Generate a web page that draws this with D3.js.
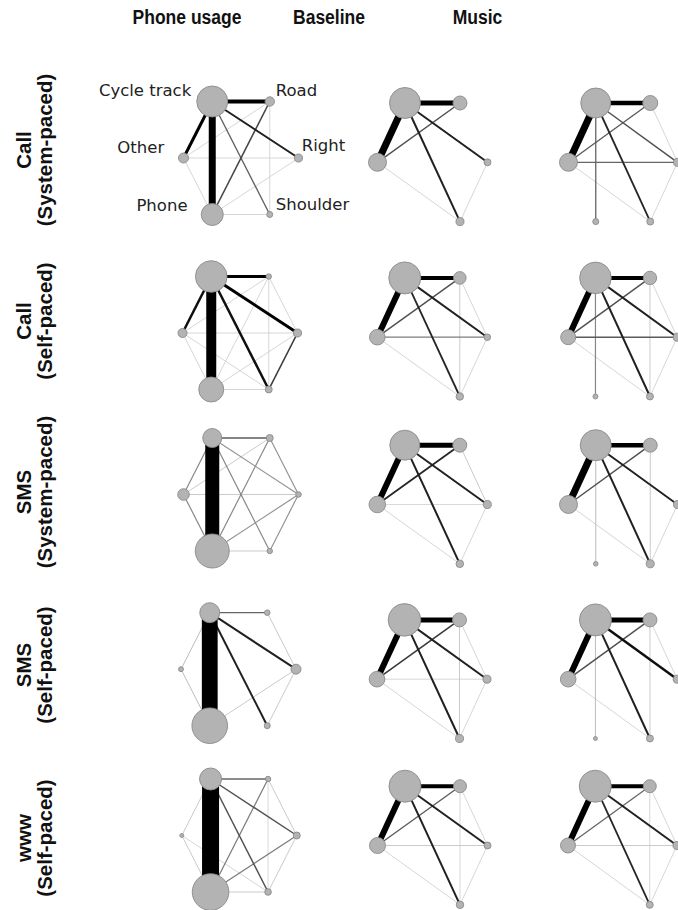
<!DOCTYPE html>
<html>
<head>
<meta charset="utf-8">
<script src="https://cdn.jsdelivr.net/npm/d3@7"></script>
<style>
  html, body { margin: 0; padding: 0; background: #fff; }
  svg { display: block; }
</style>
</head>
<body>
<svg id="chart" width="678" height="910"></svg>
<script>
// Gaze-transition networks: 5 task conditions x 3 conditions (columns).
// Areas of interest, in hexagon order starting top-left, clockwise.
const aoiKeys  = ["CT", "RD", "RT", "SH", "PH", "OT"];
const aoiNames = ["Cycle track", "Road", "Right", "Shoulder", "Phone", "Other"];
// circular layout coordinates of each AOI (normalised to [-1, 1])
const aoiLayout = [[-0.5, 1], [0.5, 1], [1, 0], [0.5, -1], [-0.5, -1], [-1, 0]];

const columnTitles = ["Phone usage", "Baseline", "Music"];
const rowTask = ["Call", "Call", "SMS", "SMS", "www"];
const rowPace = ["(System-paced)", "(Self-paced)", "(System-paced)", "(Self-paced)", "(Self-paced)"];

// share of dwell time per AOI (%), order = aoiKeys; null = AOI not present
const dwellPhone = [
  [55.5, 5.1, 3.7, 2.1, 28.0, 5.8],
  [57.7, 1.7, 3.7, 2.8, 36.1, 4.7],
  [20.9, 2.8, 1.8, 1.7, 66.8, 7.8],
  [23.1, 1.8, 5.8, 2.1, 73.3, 1.4],
  [28.0, 1.7, 2.8, 2.5, 77.4, 0.9]
];
const dwellBaseline = [
  [55.5, 11.3, 2.8, 3.7, null, 18.7],
  [59.2, 9.2, 2.5, 3.2, null, 14.1],
  [52.0, 11.3, 3.7, 3.3, null, 15.9],
  [61.4, 11.3, 3.7, 3.7, null, 14.1],
  [59.2, 9.8, 2.8, 3.2, null, 14.8]
];
const dwellMusic = [
  [52.0, 13.0, 3.7, 2.8, 2.1, 18.7],
  [57.7, 10.4, 3.7, 2.8, 1.4, 13.0],
  [55.5, 11.3, 3.7, 3.7, 1.2, 18.7],
  [59.2, 11.3, 3.7, 2.8, 0.9, 14.1],
  [59.2, 9.8, 3.7, 2.8, null, 13.0]
];

// transition frequencies (% of transitions) between AOI pairs
const transPhone = [
  [["CT","PH",8], ["CT","RD",4.25], ["CT","OT",3], ["CT","RT",1.75], ["PH","RD",1.2], ["CT","SH",0.95],
   ["RD","OT",0.4], ["RD","SH",0.4], ["OT","RT",0.4], ["OT","PH",0.4], ["PH","SH",0.4], ["PH","RT",0.4]],
  [["CT","PH",11.75], ["CT","RD",3], ["CT","OT",2.4], ["CT","RT",3], ["CT","SH",2.4], ["RT","SH",1.3],
   ["RD","OT",0.4], ["RD","PH",0.4], ["RD","SH",0.4], ["RD","RT",0.4], ["OT","RT",0.4], ["OT","PH",0.4],
   ["OT","SH",0.4], ["PH","RT",0.4], ["PH","SH",0.4]],
  [["CT","PH",16.75], ["CT","RD",1.0], ["CT","OT",0.75], ["CT","RT",0.7], ["CT","SH",0.75], ["RD","OT",0.45],
   ["RD","PH",0.75], ["RD","RT",0.7], ["OT","RT",0.45], ["OT","PH",0.75], ["PH","RT",0.7], ["PH","SH",0.45],
   ["RT","SH",0.7]],
  [["CT","PH",19], ["CT","RD",0.9], ["CT","RT",1.75], ["CT","SH",1.75], ["CT","OT",0.5], ["OT","PH",0.5],
   ["RD","RT",0.45], ["PH","RT",0.45], ["RT","SH",0.45]],
  [["CT","PH",20.5], ["CT","RD",0.9], ["CT","RT",1.1], ["CT","SH",1.1], ["CT","OT",0.45], ["RD","PH",0.8],
   ["RD","SH",0.3], ["RD","RT",0.45], ["OT","PH",0.45], ["OT","SH",0.4], ["PH","RT",0.8], ["PH","SH",0.45],
   ["RT","SH",0.45]]
];
const transBaseline = [
  [["CT","OT",8], ["CT","RD",5.5], ["CT","RT",1.75], ["CT","SH",1.75], ["RD","OT",1.1], ["OT","SH",0.4], ["RT","SH",0.4]],
  [["CT","OT",6.75], ["CT","RD",4.25], ["CT","RT",1.75], ["CT","SH",1.5], ["RD","OT",1.1], ["OT","RT",0.8],
   ["RD","SH",0.45], ["RD","RT",0.4], ["OT","SH",0.4], ["RT","SH",0.4]],
  [["CT","OT",6.75], ["CT","RD",5.5], ["CT","RT",1.75], ["CT","SH",1.75], ["RD","OT",1.5], ["RD","RT",0.45],
   ["OT","RT",0.3], ["OT","SH",0.4], ["RT","SH",0.4]],
  [["CT","OT",6.75], ["CT","RD",5.5], ["CT","RT",1.75], ["CT","SH",1.75], ["RD","OT",1.3], ["RD","SH",0.45],
   ["RD","RT",0.4], ["OT","RT",0.4], ["OT","SH",0.4], ["RT","SH",0.4]],
  [["CT","OT",6.75], ["CT","RD",4.25], ["CT","RT",1.75], ["CT","SH",1.75], ["RD","OT",1.0], ["OT","RT",0.45],
   ["RD","SH",0.4], ["RD","RT",0.4], ["OT","SH",0.4], ["RT","SH",0.4]]
];
const transMusic = [
  [["CT","OT",8], ["CT","RD",4.9], ["CT","PH",0.9], ["CT","SH",1.5], ["CT","RT",1.1], ["RD","OT",1.0],
   ["OT","RT",0.9], ["RD","RT",0.4], ["OT","SH",0.4], ["RT","SH",0.4]],
  [["CT","OT",6.75], ["CT","RD",4.25], ["CT","PH",0.75], ["CT","SH",1.75], ["CT","RT",1.75], ["RD","OT",1.1],
   ["OT","RT",1.0], ["RD","SH",0.45], ["RD","RT",0.4], ["OT","SH",0.4], ["RT","SH",0.4]],
  [["CT","OT",8], ["CT","RD",4.9], ["CT","PH",0.5], ["CT","SH",1.75], ["CT","RT",1.75], ["RD","OT",1.1],
   ["RD","SH",0.45], ["OT","SH",0.4], ["RT","SH",0.4]],
  [["CT","OT",6.75], ["CT","RD",5.5], ["CT","PH",0.5], ["CT","SH",1.75], ["CT","RT",2.4], ["RD","OT",1.1],
   ["RD","SH",0.45], ["RD","RT",0.4], ["OT","SH",0.4]],
  [["CT","OT",6.75], ["CT","RD",4.25], ["CT","RT",1.75], ["CT","SH",1.5], ["RD","OT",0.9], ["OT","RT",0.45],
   ["RD","SH",0.4], ["RD","RT",0.4], ["OT","SH",0.4], ["RT","SH",0.4]]
];

const dwellByColumn = [dwellPhone, dwellBaseline, dwellMusic];
const transByColumn = [transPhone, transBaseline, transMusic];

// ---- panel geometry ----
const colGeom = [
  { cx: [241, 240, 241, 238.5, 239.3], rx: 57.5, ry: 56.5, cy: [158, 333, 494.5, 669.2, 835.5] },
  { cx: [432.5, 432.3, 432.3, 432, 432.5], rx: 55, ry: 59.3, cy: [162.3, 337.2, 504.5, 679.2, 845.5] },
  { cx: [623, 622.7, 623, 622.7, 622.5], rx: 54.5, ry: 59.3, cy: [162.3, 337.2, 504.5, 679.2, 845.5] }
];
const titleX = [187, 329, 477.5];
const rowLabelY = [150, 321, 492, 665, 838];

const radius = d3.scaleSqrt().domain([0, 100]).range([0, 20.8]);
const edgeWidth = d3.scaleLinear().domain([0, 20]).range([0.6, 16.6]);
const edgeColor = d3.scaleLinear()
  .domain([0.4, 0.6, 0.9, 1.5, 3])
  .range(["#d2d2d2", "#a8a8a8", "#666666", "#262626", "#000000"])
  .clamp(true);

const svg = d3.select("#chart");
svg.append("rect").attr("width", 678).attr("height", 910).attr("fill", "#fff");

const boldFont = "'Liberation Sans', Arial, sans-serif";

// column titles (bold, slightly condensed)
svg.selectAll("g.coltitle")
  .data(columnTitles)
  .join("g")
  .attr("class", "coltitle")
  .attr("transform", (d, i) => `translate(${titleX[i]},24) scale(0.875,1)`)
  .append("text")
  .attr("text-anchor", "middle")
  .attr("font-family", boldFont)
  .attr("font-weight", "bold")
  .attr("font-size", 20)
  .attr("fill", "#111")
  .text(d => d);

// row labels (rotated, two lines)
const rowG = svg.selectAll("g.rowlabel")
  .data(rowTask)
  .join("g")
  .attr("class", "rowlabel")
  .attr("transform", (d, i) => `translate(0,${rowLabelY[i]}) rotate(-90)`);
rowG.append("text")
  .attr("x", 0).attr("y", 31)
  .attr("text-anchor", "middle")
  .attr("font-family", boldFont)
  .attr("font-weight", "bold").attr("font-size", 20.5).attr("fill", "#111")
  .text(d => d);
rowG.append("text")
  .attr("x", 0).attr("y", 52)
  .attr("text-anchor", "middle")
  .attr("font-family", boldFont)
  .attr("font-weight", "bold").attr("font-size", 20.5).attr("fill", "#111")
  .text((d, i) => rowPace[i]);

// networks
for (let c = 0; c < 3; c++) {
  for (let r = 0; r < 5; r++) {
    const g = colGeom[c];
    const x = d3.scaleLinear().domain([-1, 1]).range([g.cx[r] - g.rx, g.cx[r] + g.rx]);
    const y = d3.scaleLinear().domain([-1, 1]).range([g.cy[r] + g.ry, g.cy[r] - g.ry]);
    const dwell = dwellByColumn[c][r];
    const nodes = aoiKeys.map((k, i) => ({
      key: k, name: aoiNames[i], value: dwell[i],
      x: x(aoiLayout[i][0]), y: y(aoiLayout[i][1])
    })).filter(n => n.value !== null);
    const byKey = new Map(nodes.map(n => [n.key, n]));
    const links = transByColumn[c][r]
      .map(([s, t, w]) => ({ s: byKey.get(s), t: byKey.get(t), w }))
      .filter(l => l.s && l.t)
      .sort((a, b) => a.w - b.w);

    const panel = svg.append("g").attr("class", `panel r${r} c${c}`);
    panel.selectAll("line")
      .data(links)
      .join("line")
      .attr("x1", d => d.s.x).attr("y1", d => d.s.y)
      .attr("x2", d => d.t.x).attr("y2", d => d.t.y)
      .attr("stroke", d => edgeColor(d.w))
      .attr("stroke-width", d => edgeWidth(d.w))
      .attr("stroke-linecap", "butt");
    panel.selectAll("circle")
      .data(nodes)
      .join("circle")
      .attr("cx", d => d.x).attr("cy", d => d.y)
      .attr("r", d => radius(d.value))
      .attr("fill", "#b3b3b3")
      .attr("stroke", "#8a8a8a")
      .attr("stroke-width", 0.9);

    // AOI names on the first panel only
    if (r === 0 && c === 0) {
      const labelOffset = {
        CT: [-21, -5.7, "end"], RD: [6, -5.7, "start"], RT: [3.3, -6.6, "start"],
        SH: [6, -4.3, "start"], PH: [-24.7, -3.6, "end"], OT: [-19.3, -5, "end"]
      };
      panel.selectAll("text")
        .data(nodes)
        .join("text")
        .attr("x", d => d.x + labelOffset[d.key][0])
        .attr("y", d => d.y + labelOffset[d.key][1])
        .attr("text-anchor", d => labelOffset[d.key][2])
        .attr("font-family", "'DejaVu Sans', Verdana, sans-serif")
        .attr("font-size", 16.5)
        .attr("fill", "#222")
        .text(d => d.name);
    }
  }
}
</script>
</body>
</html>
